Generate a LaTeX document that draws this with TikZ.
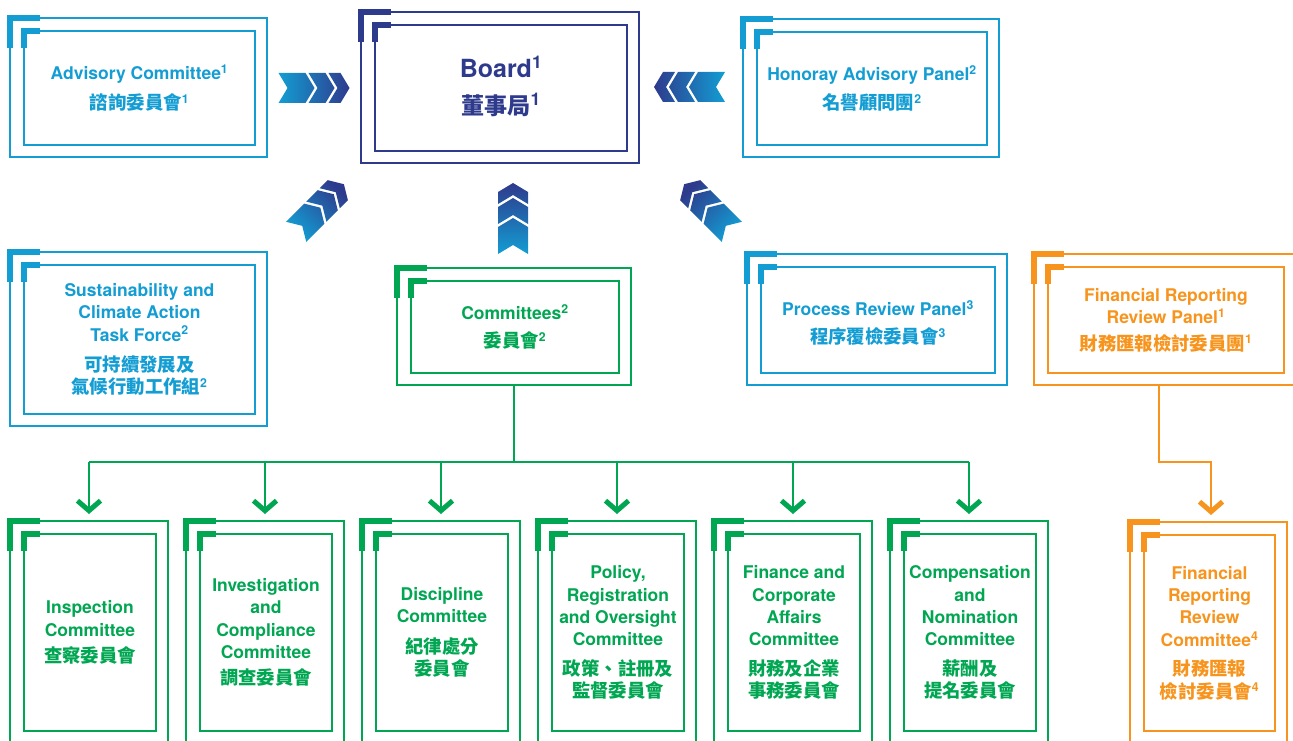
\documentclass[tikz,border=0pt]{standalone}
\usepackage{fontspec}
\setmainfont{TeX Gyre Heros}
\newfontfamily\cjk[Scale=1.05]{Noto Sans CJK TC}
\usetikzlibrary{fit,arrows.meta}

\definecolor{navy}{HTML}{2E3A8C}
\definecolor{sky}{HTML}{139DD3}
\definecolor{leaf}{HTML}{00A651}
\definecolor{amber}{HTML}{F7941D}

% double frame with its two corner marks.
% #1 name, #2 colour, (#3,#4) top left, (#5,#6) bottom right
\newcommand\frames[6]{%
  \node[frame=#2, fit={(#3,#4) (#5,#6)}] (#1) {};
  \node[frame=#2, fit={(#3+14,#4+13) (#5-12,#6-12)}] (#1-in) {};
  \draw[cornermark=#2] (#3,#4+30) -- (#3,#4) -- (#3+30,#4);
  \draw[cornermark=#2] (#3+14,#4+30) -- (#3+14,#4+13) -- (#3+30,#4+13);
}

% three chevrons. (#1,#2) centre, #3 direction, #4 shading angle, #5 scale
\newcommand\chevrons[5]{%
  \shade[top color=navy, bottom color=sky, shading angle=#4,
         shift={(#1,#2)}, rotate=#3, scale=#5]
    (-35.5,-15) -- (-8.5,-15) -- (0.5,0) -- (-8.5,15) -- (-35.5,15) -- (-26.5,0) -- cycle
    (-5.5,-15) -- (11.5,-15) -- (20.5,0) -- (11.5,15) -- (-5.5,15) -- (3.5,0) -- cycle
    (14.5,-15) -- (26.5,-15) -- (35.5,0) -- (26.5,15) -- (14.5,15) -- (23.5,0) -- cycle;
}

\begin{document}
\begin{tikzpicture}[x=1pt, y=-1pt,
    frame/.style={draw=#1, line width=1.3pt, inner sep=0pt, outer sep=0pt},
    cornermark/.style={draw=#1, line width=6pt},
    boxtext/.style={text=#1, align=center, font=\bfseries\fontsize{17.5}{22.4}\selectfont},
    wire/.style={draw=#1, line width=1.3pt},
    link/.style={wire=#1, shorten >=7pt, -{Straight Barb[length=10pt,width=23pt,line width=5pt]}}]
    \useasboundingbox (0,0) rectangle (1293,741);
    % top row
    \frames{adv}{sky}{10}{18}{267}{157}
    \frames{board}{navy}{361}{12}{639}{163}
    \frames{hon}{sky}{743}{19}{999}{157}
    \node[boxtext=sky] (adv-txt) at (adv-in.center)
        {Advisory Committee\textsuperscript{1}\\[7pt]{\cjk 諮詢委員會}\textsuperscript{1}};
    \node[boxtext=navy, font=\bfseries\fontsize{25}{30}\selectfont] (board-txt) at ([yshift=2pt]board-in.center)
        {Board\textsuperscript{1}\\[7pt]{\fontsize{22}{30}\selectfont\cjk 董事局}\textsuperscript{1}};
    \node[boxtext=sky] (hon-txt) at (hon-in.center)
        {Honoray Advisory Panel\textsuperscript{2}\\[7pt]{\cjk 名譽顧問團}\textsuperscript{2}};
    % middle row
    \frames{sus}{sky}{10}{252}{267}{426}
    \frames{comm}{leaf}{397}{268}{631}{385}
    \frames{prp}{sky}{747}{254}{1007}{385}
    \frames{frrp}{amber}{1034}{254}{1296}{385}
    \node[boxtext=sky] (sus-txt) at (sus-in.center)
        {Sustainability and\\Climate Action\\Task Force\textsuperscript{2}\\[8pt]{\cjk 可持續發展及}\\{\cjk 氣候行動工作組}\textsuperscript{2}};
    \node[boxtext=leaf] (comm-txt) at (comm-in.center)
        {Committees\textsuperscript{2}\\[5pt]{\cjk 委員會}\textsuperscript{2}};
    \node[boxtext=sky] (prp-txt) at ([yshift=-3pt]prp-in.center)
        {Process Review Panel\textsuperscript{3}\\[5pt]{\cjk 程序覆檢委員會}\textsuperscript{3}};
    \node[boxtext=amber] (frrp-txt) at (frrp-in.center)
        {Financial Reporting\\Review Panel\textsuperscript{1}\\[4pt]{\cjk 財務匯報檢討委員團}\textsuperscript{1}};
    % bottom row
    \frames{insp}{leaf}{10}{521}{168}{743}
    \frames{inv}{leaf}{186}{521}{344}{743}
    \frames{disc}{leaf}{362}{521}{520}{743}
    \frames{pol}{leaf}{538}{521}{696}{743}
    \frames{fin}{leaf}{714}{521}{872}{743}
    \frames{comp}{leaf}{890}{521}{1048}{743}
    \frames{frrc}{amber}{1130}{522}{1287}{743}
    \node[boxtext=leaf] (insp-txt) at (insp-in.center)
        {Inspection\\Committee\\[4pt]{\cjk 查察委員會}};
    \node[boxtext=leaf] (inv-txt) at (inv-in.center)
        {Investigation\\and\\Compliance\\Committee\\[4pt]{\cjk 調查委員會}};
    \node[boxtext=leaf] (disc-txt) at (disc-in.center)
        {Discipline\\Committee\\[8pt]{\cjk 紀律處分}\\{\cjk 委員會}};
    \node[boxtext=leaf] (pol-txt) at (pol-in.center)
        {Policy,\\Registration\\and Oversight\\Committee\\[7pt]{\cjk 政策、註冊及}\\{\cjk 監督委員會}};
    \node[boxtext=leaf] (fin-txt) at (fin-in.center)
        {Finance and\\Corporate\\Affairs\\Committee\\[7pt]{\cjk 財務及企業}\\{\cjk 事務委員會}};
    \node[boxtext=leaf] (comp-txt) at (comp-in.center)
        {Compensation\\and\\Nomination\\Committee\\[7pt]{\cjk 薪酬及}\\{\cjk 提名委員會}};
    \node[boxtext=amber] (frrc-txt) at (frrc-in.center)
        {Financial\\Reporting\\Review\\Committee\textsuperscript{4}\\[7pt]{\cjk 財務匯報}\\{\cjk 檢討委員會}\textsuperscript{4}};
    % chevrons towards the board
    \chevrons{314}{88}{0}{-90}{1}
    \chevrons{689.5}{87}{180}{90}{1}
    \chevrons{513}{218.5}{90}{0}{1}
    \chevrons{320}{208}{45}{-45}{0.95}
    \chevrons{708}{208}{135}{45}{0.95}
    % links
    \coordinate (bus) at (514,462);
    \coordinate (fbend) at (1159,462);
    \draw[wire=leaf] (comm.south) -- (bus);
    \draw[wire=leaf] (insp.north |- bus) -- (comp.north |- bus);
    \foreach \b in {insp,inv,disc,pol,fin,comp}
        \draw[link=leaf] (\b.north |- bus) -- (\b.north);
    \draw[link=amber] (frrp.south -| fbend) -- (fbend) -| ([xshift=2.5pt]frrc.north);
\end{tikzpicture}
\end{document}
